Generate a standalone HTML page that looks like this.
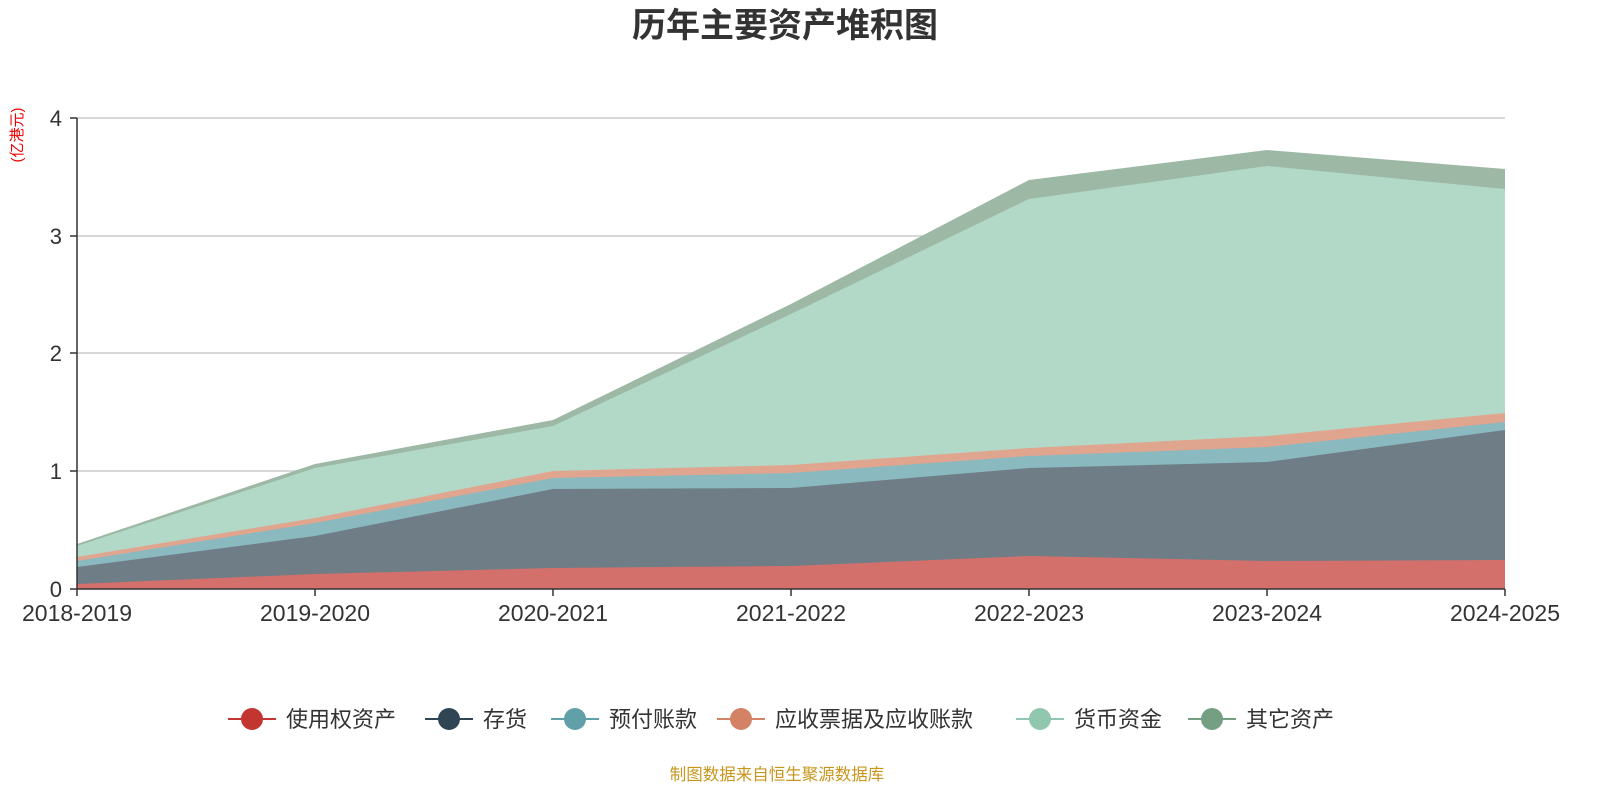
<!DOCTYPE html>
<html><head><meta charset="utf-8"><style>
body{margin:0;background:#fff;width:1600px;height:800px;overflow:hidden}
svg{display:block}
text{font-family:"Liberation Sans","Noto Sans CJK SC",sans-serif}
</style></head><body>
<svg width="1600" height="800" viewBox="0 0 1600 800">
<text x="785" y="37" text-anchor="middle" font-size="34" font-weight="bold" fill="#333">历年主要资产堆积图</text>
<text transform="translate(22,135) rotate(-90)" text-anchor="middle" font-size="15" fill="#e00">(亿港元)</text>
<g stroke="#ccc" stroke-width="1.5">
<line x1="77" y1="118" x2="1505" y2="118"/><line x1="77" y1="236" x2="1505" y2="236"/>
<line x1="77" y1="353" x2="1505" y2="353"/><line x1="77" y1="471" x2="1505" y2="471"/>
</g>
<polygon fill="#9db8a5" points="77,544 315,464 553,420 791,304 1029,180 1267,150 1505,169 1505,589 77,589"/>
<polygon fill="#b2d9c7" points="77,546 315,468 553,426 791,314 1029,199 1267,166 1505,189 1505,589 77,589"/>
<polygon fill="#e0a58f" points="77,557 315,518 553,471 791,465 1029,448 1267,436 1505,413 1505,589 77,589"/>
<polygon fill="#8bb9c0" points="77,561 315,523 553,478 791,473 1029,456 1267,447 1505,422 1505,589 77,589"/>
<polygon fill="#6f7d87" points="77,567 315,536 553,489 791,488 1029,468 1267,462 1505,430 1505,589 77,589"/>
<polygon fill="#d4706b" points="77,584 315,574 553,568 791,566 1029,556 1267,561 1505,560 1505,589 77,589"/>
<line x1="77" y1="118" x2="77" y2="589" stroke="#333" stroke-width="1.5"/>
<line x1="77" y1="589" x2="1505" y2="589" stroke="#333" stroke-width="1.5"/>
<g stroke="#333" stroke-width="1.5">
<line x1="70" y1="118" x2="77" y2="118"/><line x1="70" y1="236" x2="77" y2="236"/><line x1="70" y1="353" x2="77" y2="353"/><line x1="70" y1="471" x2="77" y2="471"/><line x1="70" y1="589" x2="77" y2="589"/>
<line x1="77" y1="589" x2="77" y2="596"/><line x1="315" y1="589" x2="315" y2="596"/><line x1="553" y1="589" x2="553" y2="596"/><line x1="791" y1="589" x2="791" y2="596"/><line x1="1029" y1="589" x2="1029" y2="596"/><line x1="1267" y1="589" x2="1267" y2="596"/><line x1="1505" y1="589" x2="1505" y2="596"/>
</g>
<g font-size="22" fill="#333" text-anchor="end">
<text x="62" y="126">4</text><text x="62" y="244">3</text><text x="62" y="361">2</text><text x="62" y="479">1</text><text x="62" y="597">0</text>
</g>
<g font-size="23" fill="#333" text-anchor="middle">
<text x="77" y="621">2018-2019</text><text x="315" y="621">2019-2020</text><text x="553" y="621">2020-2021</text><text x="791" y="621">2021-2022</text><text x="1029" y="621">2022-2023</text><text x="1267" y="621">2023-2024</text><text x="1505" y="621">2024-2025</text>
</g>
<g font-size="22" fill="#333">
<line x1="228" y1="719" x2="276" y2="719" stroke="#c23531" stroke-width="2"/><circle cx="252" cy="719" r="11" fill="#c23531"/><text x="286" y="727">使用权资产</text>
<line x1="425" y1="719" x2="473" y2="719" stroke="#2f4554" stroke-width="2"/><circle cx="449" cy="719" r="11" fill="#2f4554"/><text x="483" y="727">存货</text>
<line x1="551" y1="719" x2="599" y2="719" stroke="#61a0a8" stroke-width="2"/><circle cx="575" cy="719" r="11" fill="#61a0a8"/><text x="609" y="727">预付账款</text>
<line x1="717" y1="719" x2="765" y2="719" stroke="#d48265" stroke-width="2"/><circle cx="741" cy="719" r="11" fill="#d48265"/><text x="775" y="727">应收票据及应收账款</text>
<line x1="1016" y1="719" x2="1064" y2="719" stroke="#91c7ae" stroke-width="2"/><circle cx="1040" cy="719" r="11" fill="#91c7ae"/><text x="1074" y="727">货币资金</text>
<line x1="1188" y1="719" x2="1236" y2="719" stroke="#749f83" stroke-width="2"/><circle cx="1212" cy="719" r="11" fill="#749f83"/><text x="1246" y="727">其它资产</text>
</g>
<text x="777" y="780" text-anchor="middle" font-size="16.5" fill="#c8961e">制图数据来自恒生聚源数据库</text>
</svg>
</body></html>
